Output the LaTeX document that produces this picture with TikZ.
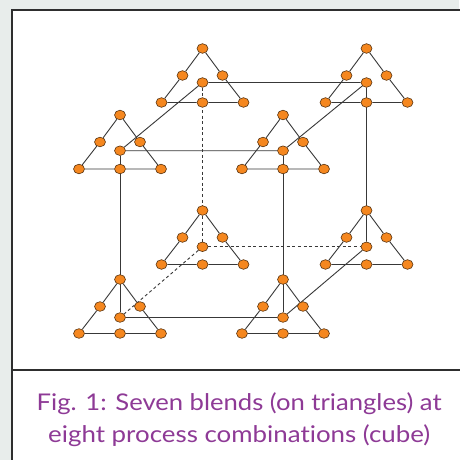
\documentclass[tikz,border=0pt]{standalone}
\usepackage{fontspec}
\usepackage{graphicx}
\setmainfont[Ligatures=NoCommon]{Lato}
\usetikzlibrary{shapes.geometric}
\pgfdeclarelayer{paper}
\pgfdeclarelayer{wires}
\pgfsetlayers{paper,wires,main}
\definecolor{blendorange}{HTML}{F5871F}
\definecolor{blendrim}{HTML}{5A3512}
\definecolor{wire}{HTML}{383838}
\definecolor{captionpurple}{HTML}{8E3A96}
\definecolor{pagegrey}{HTML}{E8EDEB}
\tikzset{
  blend/.style={ellipse, draw=blendrim, fill=blendorange, line width=0.6pt,
    inner sep=0pt, minimum width=11pt, minimum height=9.6pt},
  edge/.style={draw=wire, line width=0.9pt},
  hidden/.style={edge, dash pattern=on 3pt off 2.6pt},
  caption/.style={text=captionpurple, font=\fontsize{23}{28}\selectfont,
    anchor=base, inner sep=0pt}
}
% caption line widened to a set measure, keeping its height
\newcommand\capline[2]{\resizebox{#1}{\height}{#2}}
% one simplex of seven blends: name, apex x, apex y, drop of the centre blend
\newcommand\blendtri[4]{%
  \node[blend] (#1a)  at (#2,#3) {};
  \node[blend] (#1l)  at ({#2-20},{#3+27}) {};
  \node[blend] (#1r)  at ({#2+20},{#3+27}) {};
  \node[blend] (#1bl) at ({#2-41},{#3+54}) {};
  \node[blend] (#1bm) at (#2,{#3+54}) {};
  \node[blend] (#1br) at ({#2+41},{#3+54}) {};
  \node[blend] (#1c)  at (#2,{#3+#4}) {};
  \begin{pgfonlayer}{wires}
    \draw[edge] (#1bl) -- (#1l) -- (#1a) -- (#1r) -- (#1br) -- (#1bm) -- (#1bl);
  \end{pgfonlayer}}
\begin{document}
\begin{tikzpicture}[x=1pt,y=-1pt]
  \useasboundingbox (0,0) rectangle (459,460);
  \begin{pgfonlayer}{paper}
    \fill[pagegrey] (0,0) rectangle (459,460);
    \fill[white] (12,10) rectangle (470,470);
    \draw[line width=2pt, draw=black!82] (12,470) -- (12,10) -- (470,10);
    \draw[line width=2pt, draw=black!82] (12,370) -- (470,370);
  \end{pgfonlayer}

  % the eight process combinations, back face first
  \blendtri{btl}{202.5}{48.5}{34}
  \blendtri{btr}{366.5}{48.5}{34}
  \blendtri{bbl}{202.5}{210.5}{36.3}
  \blendtri{bbr}{366.5}{210.5}{36.3}
  \blendtri{ftl}{120}{115}{35.7}
  \blendtri{ftr}{283}{115}{35.7}
  \blendtri{fbl}{120}{279.5}{38}
  \blendtri{fbr}{283}{279.5}{38}

  % cube edges joining the centre blends
  \begin{pgfonlayer}{wires}
    \draw[edge] (ftlc) -- (ftrc) -- (btrc) -- (btlc) -- (ftlc);
    \draw[edge] (ftlc) -- (fblc) -- (fbrc) -- (ftrc);
    \draw[edge] (fbrc) -- (bbrc) -- (btrc);
    \draw[hidden] (btlc) -- (bblc);
    \draw[hidden] (bblc) -- (bbrc);
    \draw[hidden] (bblc) -- (fblc);
  \end{pgfonlayer}

  \node[caption] (cap1) at (239.2,410) {\capline{405pt}{Fig. 1: Seven blends (on triangles) at}};
  \node[caption] (cap2) at (239.2,442) {\capline{382pt}{eight process combinations (cube)}};
\end{tikzpicture}
\end{document}
